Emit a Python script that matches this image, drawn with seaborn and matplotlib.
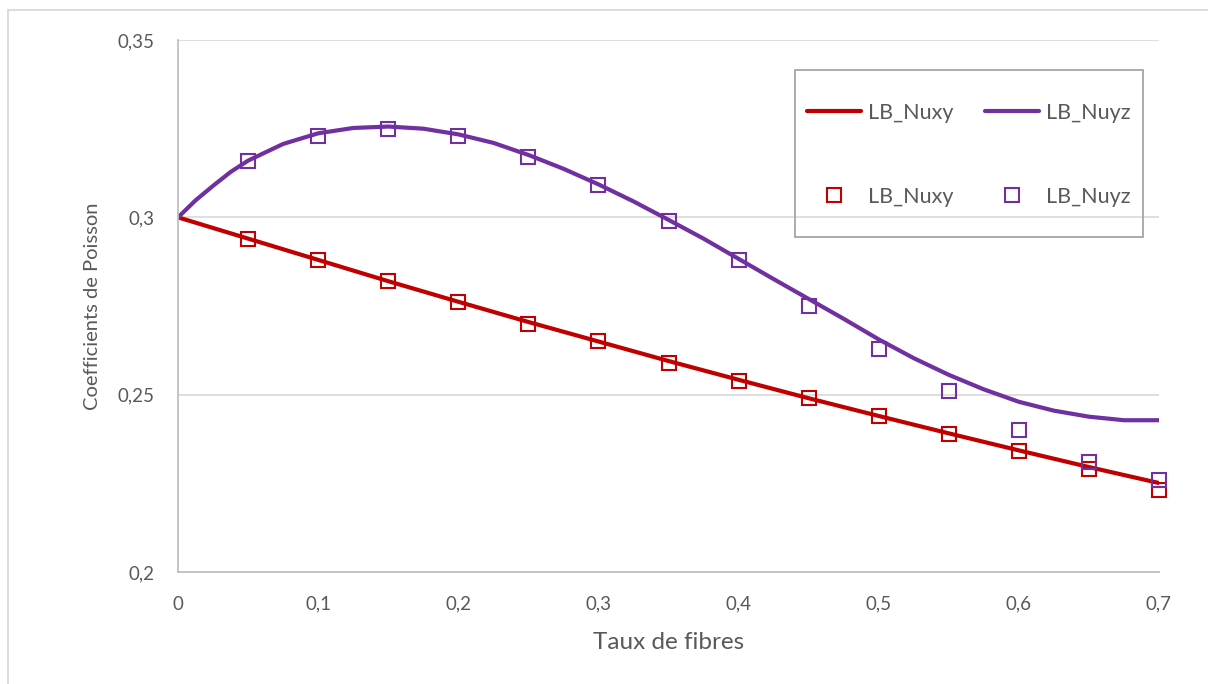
import matplotlib
matplotlib.use("Agg")
import seaborn as sns
from matplotlib import pyplot as plt
from matplotlib.lines import Line2D
from matplotlib.patches import Rectangle
from matplotlib.ticker import FuncFormatter

# Courbes
x_nuxy_line = [0, 0.05, 0.1, 0.15, 0.2, 0.25, 0.3, 0.35, 0.4, 0.45, 0.5, 0.55, 0.6, 0.65, 0.7]
y_nuxy_line = [0.300, 0.2940, 0.2880, 0.2820, 0.2762, 0.2705, 0.2650, 0.2595, 0.2542, 0.2490,
               0.2440, 0.2391, 0.2343, 0.2296, 0.2251]

x_nuyz_line = [0, 0.0125, 0.025, 0.0375, 0.05, 0.075, 0.1, 0.125, 0.15, 0.175, 0.2, 0.225,
               0.25, 0.275, 0.3, 0.325, 0.35, 0.375, 0.4, 0.425, 0.45, 0.475, 0.5, 0.525,
               0.55, 0.575, 0.6, 0.625, 0.65, 0.675, 0.7]
y_nuyz_line = [0.300, 0.3048, 0.3089, 0.3128, 0.3160, 0.3207, 0.3237, 0.3252, 0.3256, 0.3250,
               0.3234, 0.3210, 0.3176, 0.3137, 0.3093, 0.3045, 0.2993, 0.2940, 0.2883, 0.2826,
               0.2770, 0.2714, 0.2656, 0.2603, 0.2556, 0.2515, 0.2480, 0.2455, 0.2438, 0.2428,
               0.2428]

# Points
x_pts = [0.05, 0.1, 0.15, 0.2, 0.25, 0.3, 0.35, 0.4, 0.45, 0.5, 0.55, 0.6, 0.65, 0.7]
y_nuxy_pts = [0.294, 0.288, 0.282, 0.276, 0.270, 0.265, 0.259, 0.254, 0.249, 0.244,
              0.239, 0.234, 0.229, 0.223]
y_nuyz_pts = [0.316, 0.323, 0.325, 0.323, 0.317, 0.309, 0.299, 0.288, 0.275, 0.263,
              0.251, 0.240, 0.231, 0.226]

red = "#C00000"
purple = "#7030A0"
grey_txt = "#595959"

sns.set_theme(style="white")
plt.rcParams['font.family'] = ['Lato', 'DejaVu Sans']

fig = plt.figure(figsize=(12.08, 6.84), dpi=100)
ax = fig.add_axes([0.1474, 0.1637, 0.812, 0.7778])

sns.lineplot(x=x_nuxy_line, y=y_nuxy_line, ax=ax, color=red, linewidth=3, sort=False,
             zorder=2, solid_joinstyle='round', solid_capstyle='round')
sns.lineplot(x=x_nuyz_line, y=y_nuyz_line, ax=ax, color=purple, linewidth=3, sort=False,
             zorder=2, solid_joinstyle='round', solid_capstyle='round')
sns.lineplot(x=x_pts, y=y_nuxy_pts, ax=ax, marker='s', linestyle='', markersize=10,
             mfc='none', mec=red, mew=1.5, zorder=3, clip_on=False)
sns.lineplot(x=x_pts, y=y_nuyz_pts, ax=ax, marker='s', linestyle='', markersize=10,
             mfc='none', mec=purple, mew=1.5, zorder=3, clip_on=False)

ax.set_xlim(0, 0.7)
ax.set_ylim(0.2, 0.35)
ax.set_xticks([0, 0.1, 0.2, 0.3, 0.4, 0.5, 0.6, 0.7])
ax.set_yticks([0.2, 0.25, 0.3, 0.35])
fmt = FuncFormatter(lambda v, p: f"{v:.2f}".rstrip('0').rstrip('.').replace('.', ',') if v != 0 else "0")
ax.xaxis.set_major_formatter(fmt)
ax.yaxis.set_major_formatter(fmt)
ax.tick_params(axis='both', length=0, labelsize=13.5, colors=grey_txt)
ax.tick_params(axis='x', pad=17)
ax.tick_params(axis='y', pad=17)

ax.grid(axis='y', color="#D9D9D9", linewidth=1.2)
ax.set_axisbelow(True)
for s in ['top', 'right']:
    ax.spines[s].set_visible(False)
for s in ['left', 'bottom']:
    ax.spines[s].set_color("#BFBFBF")
    ax.spines[s].set_linewidth(1.3)

ax.set_xlabel("Taux de fibres", fontsize=17.5, color=grey_txt)
ax.set_ylabel("Coefficients de Poisson", fontsize=14.5, color=grey_txt)
ax.xaxis.set_label_coords(0.5, -0.112)
ax.yaxis.set_label_coords(-0.079, 0.5)

handles = [
    Line2D([], [], color=red, linewidth=3),
    Line2D([], [], marker='s', linestyle='', markersize=10, mfc='none', mec=red, mew=1.5),
    Line2D([], [], color=purple, linewidth=3),
    Line2D([], [], marker='s', linestyle='', markersize=10, mfc='none', mec=purple, mew=1.5),
]
labels = ["LB_Nuxy", "LB_Nuxy", "LB_Nuyz", "LB_Nuyz"]
leg = fig.legend(handles, labels, ncol=2, loc='center', bbox_to_anchor=(0.802, 0.7735),
                 frameon=False, fontsize=15.5, labelcolor=grey_txt, handlelength=2.5,
                 handletextpad=0.3, columnspacing=1.5, labelspacing=2.97)

fig.patches.append(Rectangle((0.658, 0.6535), 0.288, 0.2442, transform=fig.transFigure,
                             fill=False, edgecolor="#A6A6A6", linewidth=1.3, zorder=5))
fig.patches.append(Rectangle((0.0066, -0.05), 1.1, 1.0354, transform=fig.transFigure,
                             fill=False, edgecolor="#D9D9D9", linewidth=1.3))

fig.savefig("out.png", dpi=100)
